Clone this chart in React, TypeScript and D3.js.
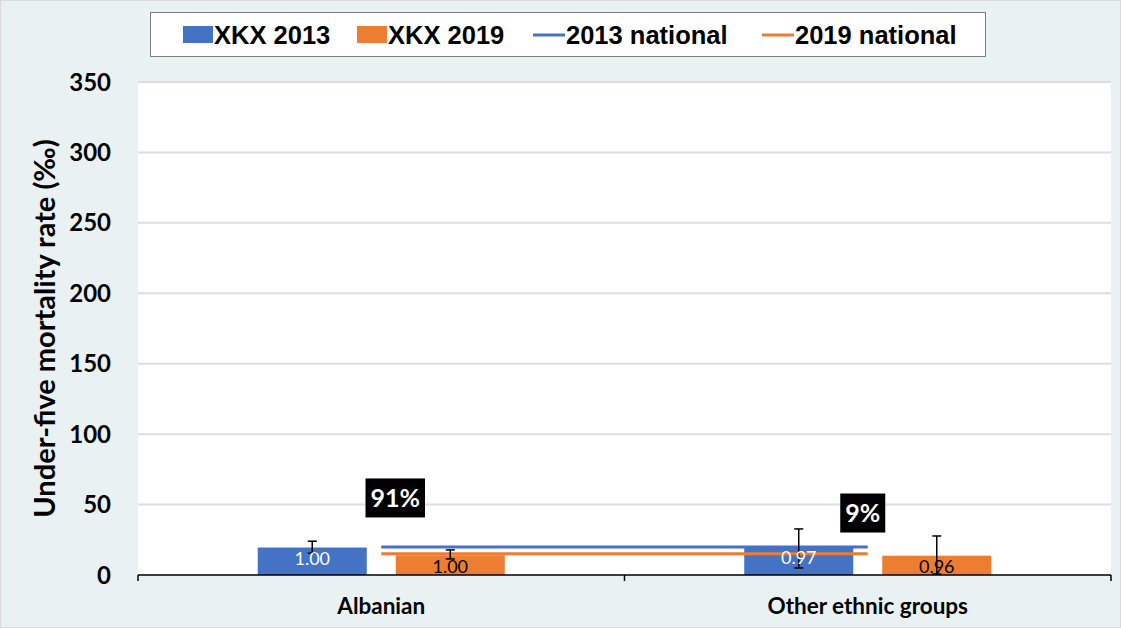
import { useEffect, useRef } from 'react'
import * as d3 from 'd3'

const categories = ['Albanian', 'Other ethnic groups']
const series = ['XKX 2013', 'XKX 2019']
const values2013 = [19.5, 20]
const values2019 = [14, 13.7]
const lower2013 = [15.5, 5]
const upper2013 = [24, 32.7]
const lower2019 = [11.4, 0.7]
const upper2019 = [17.8, 27.7]
const ratioLabels2013 = ['1.00', '0.97']
const ratioLabels2019 = ['1.00', '0.96']
const national2013 = 19.8
const national2019 = 15
const shareLabels = ['91%', '9%']
const shareY = [54.7, 44]
const shareDx = [14, -5]
const yTicks = [0, 50, 100, 150, 200, 250, 300, 350]

const BLUE = '#4472c4'
const ORANGE = '#ed7d31'

export default function App() {
  const svgRef = useRef<SVGSVGElement>(null)

  useEffect(() => {
    if (!svgRef.current) return
    const svg = d3.select(svgRef.current)
    svg.selectAll('*').remove()

    const W = 1121
    const H = 628
    const plot = { left: 138, right: 1111, top: 82, bottom: 575 }
    const font = 'Lato, "Open Sans", sans-serif'

    svg.append('rect')
      .attr('x', 0.5).attr('y', 0.5)
      .attr('width', W - 1).attr('height', H - 1)
      .attr('fill', '#eaf1f3')
      .attr('stroke', '#d9d9d9')

    svg.append('rect')
      .attr('x', plot.left).attr('y', plot.top)
      .attr('width', plot.right - plot.left)
      .attr('height', plot.bottom - plot.top)
      .attr('fill', '#ffffff')

    const y = d3.scaleLinear().domain([0, 350]).range([plot.bottom, plot.top])
    const x = d3.scaleBand<string>().domain(categories).range([plot.left, plot.right])
    const xs = d3.scaleBand<string>().domain(series)
      .range([0, x.bandwidth()])
      .paddingInner(0.21)
      .paddingOuter(0.8675)

    // gridlines
    svg.append('g')
      .selectAll('line')
      .data(yTicks.filter(t => t > 0))
      .enter().append('line')
      .attr('x1', plot.left).attr('x2', plot.right)
      .attr('y1', d => y(d)).attr('y2', d => y(d))
      .attr('stroke', '#dedede')
      .attr('stroke-width', 2)

    // y tick labels
    svg.append('g')
      .selectAll('text')
      .data(yTicks)
      .enter().append('text')
      .attr('x', 111)
      .attr('y', d => y(d))
      .attr('dy', '0.36em')
      .attr('text-anchor', 'end')
      .style('font-family', font)
      .style('font-weight', 'bold')
      .style('font-size', '24px')
      .style('fill', '#000')
      .text(d => d)

    // y axis title
    svg.append('text')
      .attr('transform', `translate(55, ${(plot.top + plot.bottom) / 2 + 0}) rotate(-90)`)
      .attr('text-anchor', 'middle')
      .style('font-family', font)
      .style('font-weight', 'bold')
      .style('font-size', '29px')
      .style('fill', '#000')
      .text('Under-five mortality rate (‰)')

    const seriesData = [
      { key: series[0], values: values2013, lo: lower2013, hi: upper2013, labels: ratioLabels2013, color: BLUE, labelColor: '#fff' },
      { key: series[1], values: values2019, lo: lower2019, hi: upper2019, labels: ratioLabels2019, color: ORANGE, labelColor: '#000' },
    ]

    // bars
    seriesData.forEach(s => {
      svg.append('g')
        .selectAll('rect')
        .data(categories)
        .enter().append('rect')
        .attr('x', (c) => (x(c) ?? 0) + (xs(s.key) ?? 0))
        .attr('y', (c, i) => y(s.values[i]))
        .attr('width', xs.bandwidth())
        .attr('height', (c, i) => y(0) - y(s.values[i]))
        .attr('fill', s.color)
    })

    // national lines
    const lineGen = d3.line<string>()
      .x(c => (x(c) ?? 0) + x.bandwidth() / 2)
    ;[{ v: national2013, color: BLUE }, { v: national2019, color: ORANGE }].forEach(n => {
      svg.append('path')
        .datum(categories)
        .attr('fill', 'none')
        .attr('stroke', n.color)
        .attr('stroke-width', 3)
        .attr('d', lineGen.y(() => y(n.v)))
    })

    // error bars + ratio labels
    seriesData.forEach(s => {
      const g = svg.append('g')
      categories.forEach((c, i) => {
        const cx = (x(c) ?? 0) + (xs(s.key) ?? 0) + xs.bandwidth() / 2
        g.append('line')
          .attr('x1', cx).attr('x2', cx)
          .attr('y1', y(s.lo[i])).attr('y2', y(s.hi[i]))
          .attr('stroke', '#000').attr('stroke-width', 1.5)
        ;[s.lo[i], s.hi[i]].forEach(v => {
          g.append('line')
            .attr('x1', cx - 4.5).attr('x2', cx + 4.5)
            .attr('y1', y(v)).attr('y2', y(v))
            .attr('stroke', '#000').attr('stroke-width', 1.5)
        })
        g.append('text')
          .attr('x', cx)
          .attr('y', y(s.values[i]) + 11)
          .attr('dy', '0.36em')
          .attr('text-anchor', 'middle')
          .style('font-family', font)
          .style('font-size', '18px')
          .style('fill', s.labelColor)
          .text(s.labels[i])
      })
    })

    // x axis
    svg.append('line')
      .attr('x1', plot.left).attr('x2', plot.right)
      .attr('y1', y(0)).attr('y2', y(0))
      .attr('stroke', '#000').attr('stroke-width', 1.5)
    const tickXs = [plot.left, ...categories.map(c => (x(c) ?? 0) + x.bandwidth())]
    svg.append('g')
      .selectAll('line')
      .data(tickXs)
      .enter().append('line')
      .attr('x1', d => d).attr('x2', d => d)
      .attr('y1', y(0)).attr('y2', y(0) + 6)
      .attr('stroke', '#000').attr('stroke-width', 1.5)

    svg.append('g')
      .selectAll('text')
      .data(categories)
      .enter().append('text')
      .attr('x', c => (x(c) ?? 0) + x.bandwidth() / 2)
      .attr('y', 614)
      .attr('text-anchor', 'middle')
      .style('font-family', font)
      .style('font-weight', 'bold')
      .style('font-size', '22.5px')
      .style('fill', '#000')
      .text(c => c)

    // share boxes
    categories.forEach((c, i) => {
      const cx = (x(c) ?? 0) + x.bandwidth() / 2 + shareDx[i]
      const cy = y(shareY[i])
      const t = svg.append('text')
        .attr('x', cx).attr('y', cy)
        .attr('dy', '0.36em')
        .attr('text-anchor', 'middle')
        .style('font-family', font)
        .style('font-weight', 'bold')
        .style('font-size', '25px')
        .style('fill', '#fff')
        .text(shareLabels[i])
      const bb = (t.node() as SVGTextElement).getBBox()
      svg.insert('rect', () => t.node())
        .attr('x', bb.x - 5).attr('y', cy - 19.5)
        .attr('width', bb.width + 10).attr('height', 39)
        .attr('fill', '#000')
    })

    // legend
    const legend = svg.append('g')
    legend.append('rect')
      .attr('x', 150.5).attr('y', 12.5)
      .attr('width', 835).attr('height', 44)
      .attr('fill', '#fff')
      .attr('stroke', '#7f7f7f')
    const legendItems = [
      { label: 'XKX 2013', color: BLUE, type: 'rect', x: 183 },
      { label: 'XKX 2019', color: ORANGE, type: 'rect', x: 357 },
      { label: '2013 national', color: BLUE, type: 'line', x: 533 },
      { label: '2019 national', color: ORANGE, type: 'line', x: 762 },
    ]
    legendItems.forEach(item => {
      if (item.type === 'rect') {
        legend.append('rect')
          .attr('x', item.x).attr('y', 26)
          .attr('width', 30).attr('height', 17)
          .attr('fill', item.color)
      } else {
        legend.append('line')
          .attr('x1', item.x).attr('x2', item.x + 32)
          .attr('y1', 35).attr('y2', 35)
          .attr('stroke', item.color).attr('stroke-width', 3)
      }
      legend.append('text')
        .attr('x', item.x + (item.type === 'rect' ? 31 : 33))
        .attr('y', 35)
        .attr('dy', '0.36em')
        .style('font-family', '"Liberation Sans Narrow", "Arial Narrow", sans-serif')
        .style('font-weight', 'bold')
        .style('font-size', '25.5px')
        .style('fill', '#000')
        .text(item.label)
    })
  }, [])

  return (
    <svg
      ref={svgRef}
      width={1121}
      height={628}
      style={{ position: 'absolute', left: 0, top: 0 }}
    />
  )
}
